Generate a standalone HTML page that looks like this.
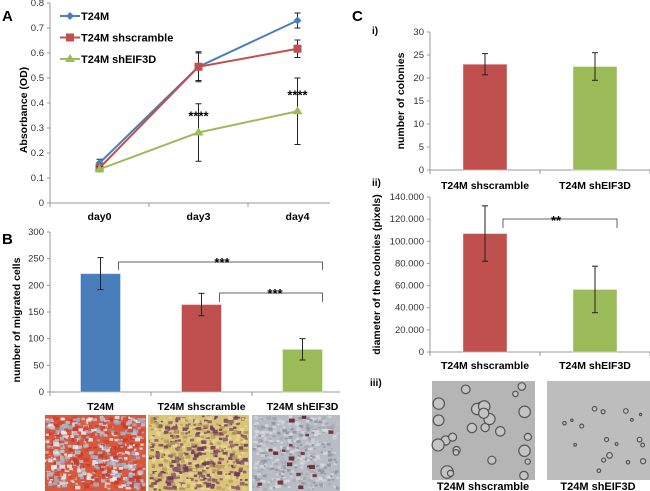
<!DOCTYPE html>
<html><head><meta charset="utf-8"><style>
html,body{margin:0;padding:0;background:#fff;}
svg{display:block;font-family:"Liberation Sans",Arial,sans-serif;}
.t{font-size:9.5px;fill:#333;}
.b{font-weight:bold;fill:#000;}
</style></head><body>
<svg id="fig" width="650" height="491" viewBox="0 0 650 491" xmlns="http://www.w3.org/2000/svg">
<g id="imgs"></g>
<g id="A"></g><g id="B"></g><g id="C1"></g><g id="C2"></g>
<text x="2" y="21" class="b" font-size="15">A</text>
<text x="2" y="244" class="b" font-size="15">B</text>
<text x="352" y="21" class="b" font-size="15">C</text>
<text x="372" y="34" class="b" font-size="10">i)</text>
<text x="372" y="186" class="b" font-size="10">ii)</text>
<text x="370" y="386" class="b" font-size="10">iii)</text>
</svg>
<script>
// ---- Panel A data ----
const daysA = ["day0","day3","day4"];
const seriesNamesA = ["T24M","T24M shscramble","T24M shEIF3D"];
const t24mA = [0.16,0.545,0.73];
const t24mErrA = [0.015,0.055,0.03];
const scrA = [0.14,0.545,0.617];
const scrErrA = [0.01,0.06,0.035];
const eifA = [0.135,0.282,0.367];
const eifErrA = [0.01,0.115,0.133];
const ticksA = [0,0.1,0.2,0.3,0.4,0.5,0.6,0.7,0.8];
// ---- Panel B data ----
const catsB = ["T24M","T24M shscramble","T24M shEIF3D"];
const valsB = [222,164,80];
const errB = [30,21,20];
const ticksB = [0,50,100,150,200,250,300];
// ---- Panel C data ----
const catsC = ["T24M shscramble","T24M shEIF3D"];
const valsC1 = [23,22.5];
const errC1 = [2.3,3];
const ticksC1 = [0,5,10,15,20,25,30];
const valsC2 = [107,56.5];
const errC2 = [25,21];
const ticksC2 = [0,20,40,60,80,100,120,140];
const tickLabelsC2 = ["0","20.000","40.000","60.000","80.000","100.000","120.000","140.000"];

const NS="http://www.w3.org/2000/svg";
function mk(parent,tag,attrs,text){const e=document.createElementNS(NS,tag);for(const k in attrs)e.setAttribute(k,attrs[k]);if(text!==undefined)e.textContent=text;parent.appendChild(e);return e;}
const COL={blue:"#4a7ebb",red:"#c0504d",green:"#9bbb59"};

function yAxis(g,x,y0,y1,ticks,labels,max,name){
  const line=mk(g,"line",{x1:x,y1:y0,x2:x,y2:y1,stroke:"#999"});
  
  
  ticks.forEach((t,i)=>{const y=y0-(t/max)*(y0-y1);
    mk(g,"line",{x1:x-3,y1:y,x2:x,y2:y,stroke:"#999"});
    const tx=mk(g,"text",{x:x-6,y:y+3,"text-anchor":"end",class:"t"},labels?labels[i]:String(t));
    
    
  });
}
function errBar(g,x,yc,yTop,yBot){
  mk(g,"line",{x1:x,y1:yTop,x2:x,y2:yBot,stroke:"#222","stroke-width":1});
  mk(g,"line",{x1:x-3,y1:yTop,x2:x+3,y2:yTop,stroke:"#222"});
  mk(g,"line",{x1:x-3,y1:yBot,x2:x+3,y2:yBot,stroke:"#222"});
}
function rotTitle(g,x,y,txt,name,fs){
  const t=mk(g,"text",{x:x,y:y,transform:`rotate(-90 ${x} ${y})`,"text-anchor":"middle",class:"b","font-size":fs||10},txt);
  
  
}

// ---- Panel A ----
(function(){
  const g=document.getElementById("A");
  const x0=50,yB=203,yT=3,max=0.8;
  const Y=v=>yB-(v/max)*(yB-yT);
  const bw=99, X=i=>x0+bw*(i+0.5);
  yAxis(g,x0,yB,yT,ticksA,ticksA.map(v=>v===0?"0":v.toFixed(1)),max,"panel-a");
  mk(g,"line",{x1:x0,y1:yB,x2:330,y2:yB,stroke:"#999"});
  for(let i=0;i<=3;i++){const xx=x0+bw*i; if(xx<=330) mk(g,"line",{x1:xx,y1:yB,x2:xx,y2:yB+4,stroke:"#999"});}
  daysA.forEach((d,i)=>{const t=mk(g,"text",{x:X(i),y:220,"text-anchor":"middle",class:"b","font-size":10.5},d);
    
    });
  rotTitle(g,27,110,"Absorbance (OD)","panel-a-y-axis-title",10.5);
  const S=[[t24mA,t24mErrA,COL.blue,"diamond"],[scrA,scrErrA,COL.red,"square"],[eifA,eifErrA,COL.green,"triangle"]];
  function marker(p,x,y,type,c){
    let e;
    if(type==="diamond") e=mk(p,"polygon",{points:`${x},${y-4} ${x+4},${y} ${x},${y+4} ${x-4},${y}`,fill:c});
    else if(type==="square") e=mk(p,"rect",{x:x-4,y:y-4,width:8,height:8,fill:c});
    else e=mk(p,"polygon",{points:`${x},${y-5} ${x+5},${y+3} ${x-5},${y+3}`,fill:c});
    return e;
  }
  S.forEach((s,si)=>{
    const [v,er,c,m]=s;
    const sg=mk(g,"g",{});
    
    
    v.forEach((val,i)=>errBar(sg,X(i),Y(val),Y(val+er[i]),Y(val-er[i])));
    mk(sg,"polyline",{points:v.map((val,i)=>X(i)+","+Y(val)).join(" "),fill:"none",stroke:c,"stroke-width":2});
    v.forEach((val,i)=>{const mm=marker(sg,X(i),Y(val),m,c);
      
      });
    const ly=16+si*21.5;
    const lg=mk(g,"g",{});
    
    
    mk(lg,"line",{x1:60,y1:ly,x2:80,y2:ly,stroke:c,"stroke-width":2});
    marker(lg,70,ly,m,c);
    mk(lg,"text",{x:81,y:ly+4,class:"b","font-size":11},seriesNamesA[si]);
  });
  [1,2].forEach(i=>{const t=mk(g,"text",{x:X(i),y:Y(eifA[i])-12,"text-anchor":"middle",class:"b","font-size":13},"****");
    
    });
})();

// ---- Panel B ----
(function(){
  const g=document.getElementById("B");
  const x0=50,yB=392,yT=232,max=300;
  const Y=v=>yB-(v/max)*(yB-yT);
  const cw=101, X=i=>x0+cw*(i+0.5), bw=40;
  yAxis(g,x0,yB,yT,ticksB,null,max,"panel-b");
  mk(g,"line",{x1:x0,y1:yB,x2:340,y2:yB,stroke:"#999"});
  for(let i=0;i<3;i++) mk(g,"line",{x1:x0+cw*i,y1:yB,x2:x0+cw*i,y2:yB+4,stroke:"#999"});
  const cols=[COL.blue,COL.red,COL.green];
  valsB.forEach((v,i)=>{
    const r=mk(g,"rect",{x:X(i)-bw/2,y:Y(v),width:bw,height:yB-Y(v),fill:cols[i],stroke:"#fff","stroke-opacity":0.4});
    
    
    errBar(g,X(i),Y(v),Y(v+errB[i]),Y(v-errB[i]));
    const t=mk(g,"text",{x:X(i),y:410,"text-anchor":"middle",class:"b","font-size":10.5},catsB[i]);
    
    
  });
  rotTitle(g,20,320,"number of migrated cells","panel-b-y-axis-title",10.5);
  const br1=mk(g,"path",{d:`M${X(0)+18},270 V262 H${X(2)+20} V270`,fill:"none",stroke:"#666","stroke-width":1});
  
  
  const br2=mk(g,"path",{d:`M${X(1)+18},302 V293 H${X(2)+20} V302`,fill:"none",stroke:"#666","stroke-width":1});
  
  
  const s1=mk(g,"text",{x:222,y:267,"text-anchor":"middle",class:"b","font-size":13},"***");
  
  
  const s2=mk(g,"text",{x:275,y:298,"text-anchor":"middle",class:"b","font-size":13},"***");
  
  
})();

// ---- Panel C bars ----
function cPanel(id,vals,errs,ticks,labels,max,yB,yT,title,titleX,name,labY){
  const g=document.getElementById(id);
  const x0=430, cw=110, X=i=>x0+cw*(i+0.5), bw=44;
  const Y=v=>yB-(v/max)*(yB-yT);
  yAxis(g,x0,yB,yT,ticks,labels,max,name);
  mk(g,"line",{x1:x0,y1:yB,x2:650,y2:yB,stroke:"#999"});
  for(let i=0;i<3;i++) mk(g,"line",{x1:x0+cw*i,y1:yB,x2:x0+cw*i,y2:yB+4,stroke:"#999"});
  const cols=[COL.red,COL.green];
  vals.forEach((v,i)=>{
    const r=mk(g,"rect",{x:X(i)-bw/2,y:Y(v),width:bw,height:yB-Y(v),fill:cols[i],stroke:"#fff","stroke-opacity":0.4});
    
    
    errBar(g,X(i),Y(v),Y(v+errs[i]),Y(v-errs[i]));
    const t=mk(g,"text",{x:X(i),y:labY,"text-anchor":"middle",class:"b","font-size":10.5},catsC[i]);
    
    
  });
  rotTitle(g,titleX,(yB+yT)/2,title,name+"-y-axis-title",10.5);
  return {X,Y};
}
cPanel("C1",valsC1,errC1,ticksC1,null,30,170,32,"number of colonies",404,"panel-ci",189);
(function(){
  cPanel("C2",valsC2,errC2,ticksC2,tickLabelsC2,140,352,197,"diameter of the colonies (pixels)",380,"panel-cii",369);
  const g=document.getElementById("C2");
  const br=mk(g,"path",{d:`M503,228 V219 H617 V228`,fill:"none",stroke:"#666"});
  
  
  const s=mk(g,"text",{x:556,y:225,"text-anchor":"middle",class:"b","font-size":13},"**");
  
  
})();

// ---- Micrograph textures (decorative, deterministic) ----
(function(){
  const g=document.getElementById("imgs");
  let seed=7; const rnd=()=>{seed=(seed*16807)%2147483647;return seed/2147483647;};
  function photo(x,y,w,h,bg,dots,n,rmin,rmax,name,ring){
    const pg=mk(g,"g",{});
    
    
    mk(pg,"rect",{x:x,y:y,width:w,height:h,fill:bg});
    for(let k=0;k<n;k++){
      const c=dots[Math.floor(rnd()*dots.length)];
      const r=rmin+rnd()*(rmax-rmin);
      const cx=x+r+rnd()*(w-2*r), cy=y+r+rnd()*(h-2*r);
      if(ring) mk(pg,"circle",{cx:cx,cy:cy,r:r,fill:"#c4c4c4",stroke:"#555","stroke-width":1.2});
      else mk(pg,"rect",{x:cx-r,y:cy-r*0.7,width:2*r,height:1.4*r,fill:c,opacity:0.85});
    }
  }
  photo(45,415,101,76,"#d45a40",["#d8432a","#c33a2a","#e0553a","#9eb0c8","#e8eef5","#b8c4d4"],700,1.2,3,"migration-image-t24m");
  photo(148,415,101,76,"#d9c47a",["#6e3a5a","#8a5a6a","#e8d890","#b89a5e"],600,1,2.6,"migration-image-shscramble");
  photo(252,415,88,76,"#b8bcc4",["#d8dadd","#8f949c","#a7abb2","#d0d3d8"],500,0.8,2.2,"migration-image-sheif3d");
  photo(252,415,88,76,"none",["#6a2030","#5a1a28"],18,1.5,3,"migration-image-sheif3d-cells");
  photo(432,381,103,99,"#b5b5b5",[],0,0,0,"colony-image-shscramble");
  seed=11; photo(432,381,103,99,"none",[],26,2.5,6.5,"colony-image-shscramble-cells",true);
  photo(547,381,103,99,"#bdbdbd",[],0,0,0,"colony-image-sheif3d");
  seed=5; photo(547,381,103,99,"none",[],18,1,3,"colony-image-sheif3d-cells",true);
  const t1=mk(g,"text",{x:483,y:490,"text-anchor":"middle",class:"b","font-size":11},"T24M shscramble");
  
  
  const t2=mk(g,"text",{x:598,y:490,"text-anchor":"middle",class:"b","font-size":11},"T24M shEIF3D");
  
  
})();
</script>
</body></html>
